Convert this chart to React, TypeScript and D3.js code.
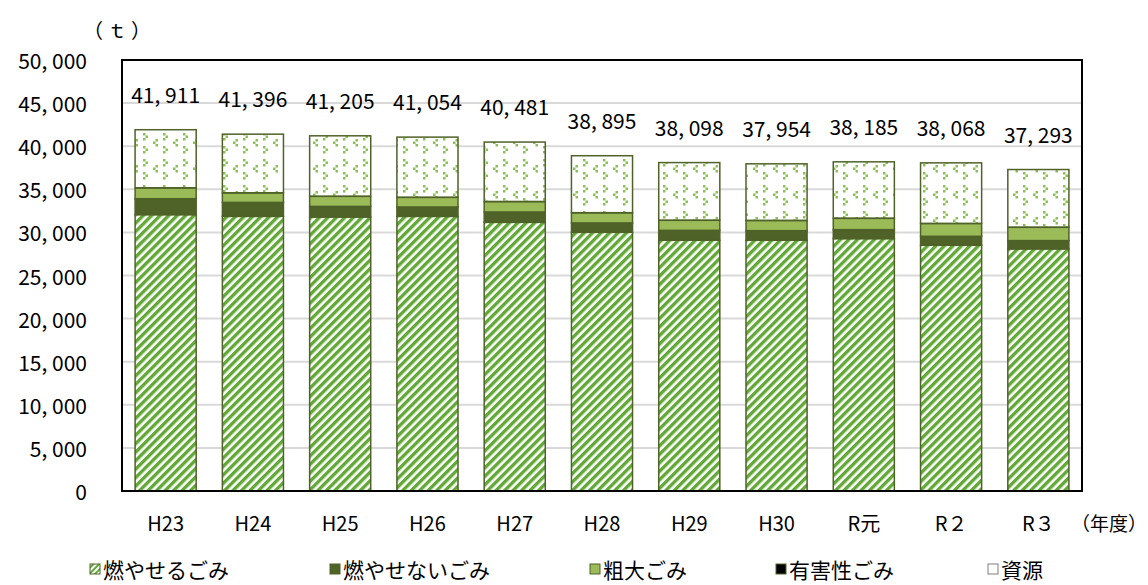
import * as d3 from 'd3';

const years = ['H23', 'H24', 'H25', 'H26', 'H27', 'H28', 'H29', 'H30', 'R元', 'R２', 'R３'];

// t per year
const burnable = [32060, 31860, 31790, 31860, 31170, 30010, 29090, 29090, 29280, 28510, 28090];
const nonBurnable = [1850, 1620, 1230, 1090, 1200, 1090, 1150, 1110, 1040, 1040, 960];
const oversized = [1240, 1090, 1160, 1110, 1190, 1160, 1160, 1170, 1310, 1470, 1540];
const hazardous = [30, 30, 30, 30, 30, 30, 30, 30, 30, 30, 30];
const resources = [6731, 6796, 6995, 6964, 6891, 6605, 6668, 6554, 6525, 7018, 6673];
const totals = [41911, 41396, 41205, 41054, 40481, 38895, 38098, 37954, 38185, 38068, 37293];

const yTicks = [0, 5000, 10000, 15000, 20000, 25000, 30000, 35000, 40000, 45000, 50000];

const seriesNames = ['燃やせるごみ', '燃やせないごみ', '粗大ごみ', '有害性ごみ', '資源'];
const seriesFills = ['url(#hatch)', '#4f6228', '#9bbb59', '#000000', 'url(#dots)'];
const legendFills = ['url(#hatchSmall)', '#4f6228', '#9bbb59', '#000000', '#ffffff'];
const legendX = [90, 330, 590, 776, 988];

const W = 1148;
const H = 585;
const plot = { left: 122, right: 1082, top: 60, bottom: 491 };
const font = '"Noto Sans CJK JP", "Noto Sans", sans-serif';

const fmt = (v: number) => d3.format(',')(v).replace(',', ', ');

export default function App() {
  const x = d3.scaleBand<string>()
    .domain(years)
    .range([plot.left, plot.right])
    .paddingInner(0.3)
    .paddingOuter(0.15);

  const y = d3.scaleLinear()
    .domain([0, 50000])
    .range([plot.bottom, plot.top]);

  const rows = years.map((yr, i) => ({
    year: yr,
    s0: burnable[i],
    s1: nonBurnable[i],
    s2: oversized[i],
    s3: hazardous[i],
    s4: resources[i],
  }));
  const stacked = d3.stack<any>().keys(['s0', 's1', 's2', 's3', 's4'])(rows);

  return (
    <svg width={W} height={H} style={{ position: 'absolute', left: 0, top: 0, background: '#fff' }} fontFamily={font}>
      <defs>
        <pattern id="hatch" width="6" height="6" patternUnits="userSpaceOnUse" patternTransform="rotate(45)">
          <rect width="6" height="6" fill="#ffffff" />
          <rect width="3.4" height="6" fill="#62a836" />
        </pattern>
        <pattern id="hatchSmall" width="4" height="4" patternUnits="userSpaceOnUse" patternTransform="rotate(45)">
          <rect width="4" height="4" fill="#ffffff" />
          <rect width="2" height="4" fill="#62a836" />
        </pattern>
        <pattern id="dots" width="20" height="26" patternUnits="userSpaceOnUse">
          <rect width="20" height="26" fill="#ffffff" />
          <g fill="#8cc055">
            {/* ">" marks */}
            <rect x="3" y="3" width="2.5" height="2.5" />
            <rect x="5.5" y="5.5" width="2.5" height="2.5" />
            <rect x="3" y="8" width="2.5" height="2.5" />
            {/* "<" marks */}
            <rect x="15.5" y="9" width="2.5" height="2.5" />
            <rect x="13" y="11.5" width="2.5" height="2.5" />
            <rect x="15.5" y="14" width="2.5" height="2.5" />
            {/* ">" marks */}
            <rect x="3" y="16" width="2.5" height="2.5" />
            <rect x="5.5" y="18.5" width="2.5" height="2.5" />
            <rect x="3" y="21" width="2.5" height="2.5" />
          </g>
        </pattern>
      </defs>

      {/* grid */}
      {yTicks.map(t => (
        <line key={t} x1={plot.left} x2={plot.right} y1={y(t)} y2={y(t)} stroke="#d9d9d9" strokeWidth={2} />
      ))}

      {/* bars */}
      {stacked.map((layer, si) => (
        <g key={si}>
          {layer.map((d, i) => (
            <rect
              key={i}
              x={x(years[i])}
              width={x.bandwidth()}
              y={y(d[1])}
              height={Math.max(0, y(d[0]) - y(d[1]))}
              fill={seriesFills[si]}
              stroke={si === 3 ? 'none' : '#4f6228'}
              strokeWidth={1.5}
            />
          ))}
        </g>
      ))}

      {/* plot frame */}
      <rect x={plot.left} y={plot.top} width={plot.right - plot.left} height={plot.bottom - plot.top} fill="none" stroke="#000" strokeWidth={2} />

      {/* total labels */}
      {totals.map((t, i) => (
        <text key={i} x={(x(years[i]) as number) + x.bandwidth() / 2} y={y(t) - 36} textAnchor="middle" dominantBaseline="central" fontSize={21} fill="#000">
          {fmt(t)}
        </text>
      ))}

      {/* y axis labels */}
      {yTicks.map(t => (
        <text key={t} x={87} y={y(t)} textAnchor="end" dominantBaseline="central" fontSize={21} fill="#000">
          {fmt(t)}
        </text>
      ))}
      <text x={119} y={29} textAnchor="middle" dominantBaseline="central" fontSize={20} fill="#000" letterSpacing={4}>（ｔ）</text>

      {/* x axis labels */}
      {years.map(yr => (
        <text key={yr} x={(x(yr) as number) + x.bandwidth() / 2} y={522} textAnchor="middle" dominantBaseline="central" fontSize={20} fill="#000">
          {yr}
        </text>
      ))}
      <text x={1109} y={522} textAnchor="middle" dominantBaseline="central" fontSize={19} fill="#000">（年度）</text>

      {/* legend */}
      {seriesNames.map((name, i) => (
        <g key={name}>
          <rect x={legendX[i]} y={564} width={10} height={10} fill={legendFills[i]} stroke={i === 4 ? '#7f7f7f' : '#4f6228'} strokeWidth={1} />
          <text x={legendX[i] + 13} y={569} dominantBaseline="central" fontSize={21} fill="#000">{name}</text>
        </g>
      ))}
    </svg>
  );
}
